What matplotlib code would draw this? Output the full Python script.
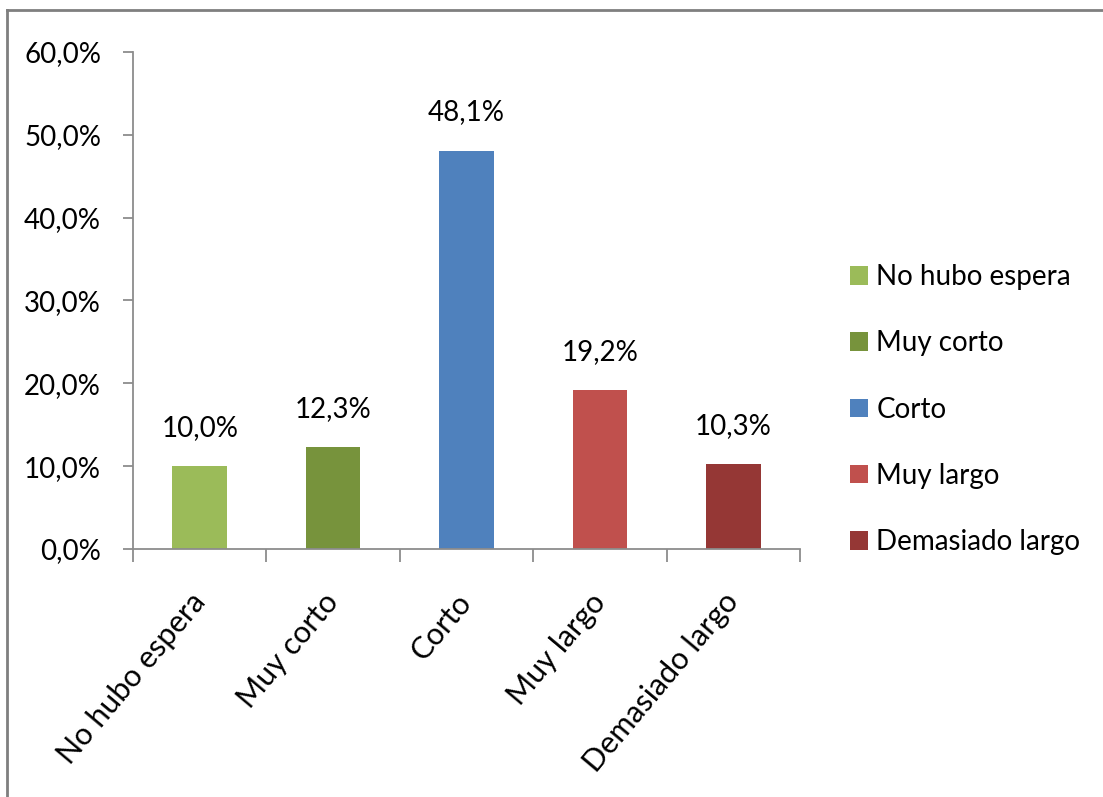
import matplotlib.pyplot as plt
from matplotlib.lines import Line2D
from matplotlib.patches import Patch
from matplotlib.transforms import ScaledTranslation

categories = ["No hubo espera", "Muy corto", "Corto", "Muy largo", "Demasiado largo"]
values = [10.0, 12.3, 48.1, 19.2, 10.3]
colors = ["#9BBB59", "#77933C", "#4F81BD", "#C0504D", "#953735"]
yticks = [0, 10, 20, 30, 40, 50, 60]


def pct(v):
    return f"{v:.1f}%".replace(".", ",")


plt.rcParams["font.family"] = ["Lato", "DejaVu Sans"]
FS = 20
AXIS_GRAY = "#8C8C8C"

fig = plt.figure(figsize=(11.03, 7.97), dpi=100)
ax = fig.add_axes([0.1206, 0.3112, 0.6047, 0.6236])

x = range(len(categories))
bars = ax.bar(x, values, width=0.41, color=colors, zorder=2)
ax.bar_label(bars, labels=[pct(v) for v in values], padding=18, fontsize=FS)

ax.set_xlim(-0.5, len(categories) - 0.5)
ax.set_ylim(0, 60)
ax.set_yticks(yticks)
ax.set_yticklabels([pct(v) for v in yticks], fontsize=FS)

# category ticks sit on the boundaries between bars
ax.set_xticks([i - 0.5 for i in range(len(categories) + 1)], minor=False)
ax.set_xticklabels([""] * (len(categories) + 1))
ax.set_xticks(list(x), minor=True)
ax.set_xticklabels(categories, minor=True, fontsize=22, rotation=50,
                   ha="right", va="center", rotation_mode="anchor")
ax.tick_params(axis="x", which="minor", length=0, pad=0)
ax.tick_params(axis="x", which="major", length=9, width=1.3, color=AXIS_GRAY)
ax.tick_params(axis="y", length=7, width=1.3, color=AXIS_GRAY, pad=16)

shift = ScaledTranslation(0.0, -0.48, fig.dpi_scale_trans)
for lbl in ax.get_xticklabels(minor=True):
    lbl.set_transform(lbl.get_transform() + shift)

for side in ("top", "right"):
    ax.spines[side].set_visible(False)
for side in ("left", "bottom"):
    ax.spines[side].set_color(AXIS_GRAY)
    ax.spines[side].set_linewidth(1.3)

handles = [Patch(facecolor=c, label=n) for c, n in zip(colors, categories)]
fig.legend(handles=handles, loc="center left", bbox_to_anchor=(0.7706, 0.486),
           frameon=False, fontsize=FS, handlelength=0.65, handleheight=0.65,
           handletextpad=0.3, labelspacing=1.45, borderpad=0, borderaxespad=0)

# chart-area border (left and top edges)
fig.add_artist(Line2D([0.0065, 0.0065], [0.0, 0.9875], color="#7F7F7F", lw=2))
fig.add_artist(Line2D([0.0065, 1.0], [0.9875, 0.9875], color="#7F7F7F", lw=2))

fig.savefig("out.png", dpi=100)
